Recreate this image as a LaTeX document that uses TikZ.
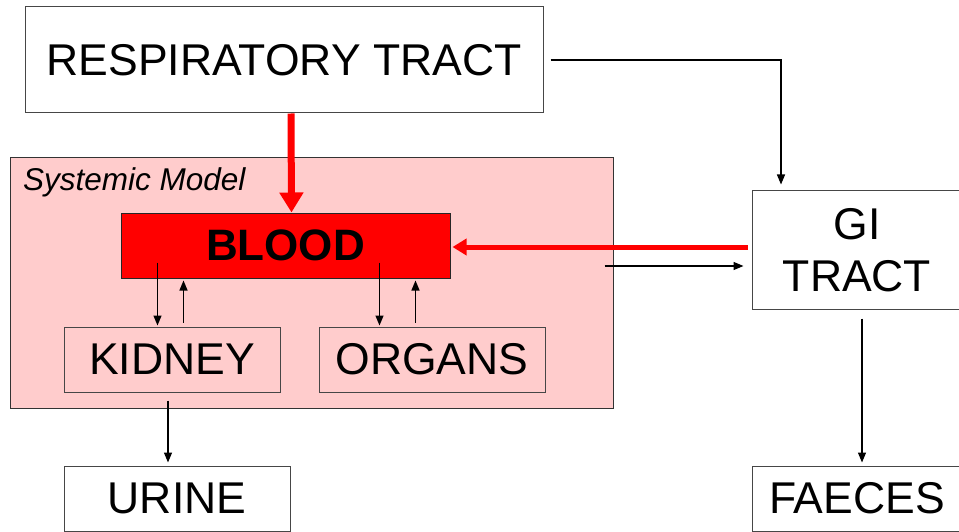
\documentclass[tikz,border=0pt]{standalone}
\usepackage{fontspec}
\setmainfont{Liberation Sans}
\usetikzlibrary{arrows.meta}
\definecolor{sysPink}{RGB}{255,204,204}
\definecolor{boxGray}{RGB}{70,70,70}
\tikzset{
  box/.style={draw=boxGray,line width=1pt,inner sep=0pt,align=center,
    font=\fontsize{44.5}{52}\selectfont},
  thinarr/.style={line width=1.3pt,-{Triangle[length=10pt,width=8pt]}},
  redarr/.style={red,line width=5pt,-{Triangle[length=14pt,width=16pt]}},
}
\begin{document}
\begin{tikzpicture}[x=1pt,y=-1pt,join=miter] % Systemic Model
  \useasboundingbox (0,0) rectangle (959,532);
  \clip (0,0) rectangle (959,532);
  \node[box,minimum width=518pt,minimum height=106pt] (resp) at (284,60) {RESPIRATORY TRACT};
  \node[draw=black!80,fill=sysPink,line width=1pt,minimum width=603pt,minimum height=250pt] (sys) at (311.5,283) {};
  \node[anchor=base west,inner sep=0pt,font=\fontsize{31.5}{36}\selectfont\itshape] (syslabel) at (23,190) {Systemic Model};
  \node[box,draw=black!85,fill=red,font=\fontsize{44}{52}\selectfont\bfseries,minimum width=329pt,minimum height=65pt] (blood) at (285.5,245.5) {BLOOD};
  \node[box,minimum width=216pt,minimum height=65pt] (kidney) at (172,359.5) {KIDNEY};
  \node[box,minimum width=226pt,minimum height=65pt] (organs) at (432,359.5) {ORGANS};
  \node[box,fill=white,minimum width=210pt,minimum height=118pt] (gi) at (857,250) {GI\\TRACT};
  \node[box,fill=white,minimum width=226pt,minimum height=65pt] (urine) at (177,498.5) {URINE};
  \node[box,fill=white,minimum width=210pt,minimum height=65pt] (faeces) at (857,498.5) {FAECES};
  % red flows into blood
  \draw[redarr,line width=7pt,-{Triangle[length=20pt,width=23pt]}] ([xshift=7pt]resp.south) -- ([xshift=6pt]blood.north);
  \draw[redarr] ([xshift=-4pt,yshift=3pt]gi.west) -- ([xshift=2pt,yshift=-1.5pt]blood.east);
  % thin flows
  \draw[thinarr] ([xshift=7pt]resp.east) -| ([xshift=-76pt,yshift=6pt]gi.north);
  \draw[thinarr] ([xshift=-9pt,yshift=17pt]sys.east) -- ([xshift=-8pt,yshift=-16pt]gi.west);
  \draw[thinarr] ([xshift=37pt,yshift=16pt]blood.south west) -- ([xshift=94pt,yshift=1pt]kidney.north west);
  \draw[thinarr] ([xshift=120pt,yshift=4pt]kidney.north west) -- ([xshift=63pt,yshift=-2pt]blood.south west);
  \draw[thinarr] ([xshift=259pt,yshift=16pt]blood.south west) -- ([xshift=61pt,yshift=1pt]organs.north west);
  \draw[thinarr] ([xshift=97pt,yshift=4pt]organs.north west) -- ([xshift=295pt,yshift=-2pt]blood.south west);
  \draw[thinarr] ([xshift=-4pt,yshift=-8pt]kidney.south) -- ([xshift=-9pt,yshift=3pt]urine.north);
  \draw[thinarr] ([xshift=5pt,yshift=-9pt]gi.south) -- ([xshift=5pt,yshift=3pt]faeces.north);
\end{tikzpicture}
\end{document}
